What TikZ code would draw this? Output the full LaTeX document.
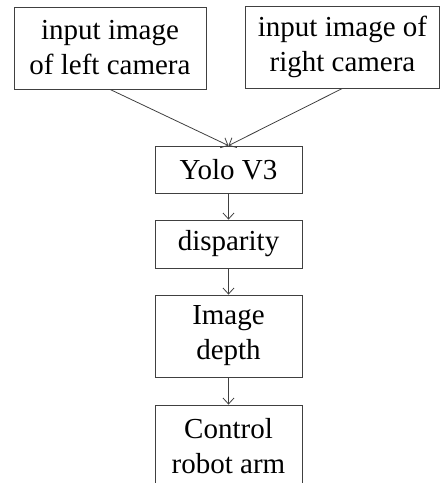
\documentclass[tikz,border=0pt]{standalone}
\usepackage{fontspec}
\setmainfont{Liberation Serif}
\usetikzlibrary{arrows.meta}

\tikzset{
	blk/.style={draw=black!75, line width=0.8pt, align=center, inner sep=0pt, minimum width=147pt, font=\fontsize{29}{35}\selectfont},
	arr/.style={draw=black!75, line width=0.8pt, -{Straight Barb[length=6pt,width=11pt]}}
}

\begin{document}
\begin{tikzpicture}[x=1pt,y=-1pt]
	\useasboundingbox (0,0) rectangle (440,483);
	\clip (0,0) rectangle (440,483);

	\node[blk, minimum width=192pt, minimum height=82pt] (left) at (110,48) {input image\\of left camera};
	\node[blk, minimum width=194pt, minimum height=82pt] (right) at (342.5,47) {input image of\\right camera};
	\node[blk, minimum height=47pt] (yolo) at (228.5,169.5) {Yolo V3};
	\node[blk, minimum height=48pt] (disp) at (228.5,244) {disparity};
	\node[blk, minimum height=82pt] (depth) at (228.5,336) {Image\\depth};
	\node[blk, minimum height=82pt] (ctrl) at (228.5,446) {Control\\robot arm};

	\draw[arr] (left.south) -- (yolo.north);
	\draw[arr] (right.south) -- (yolo.north);
	\draw[arr] (yolo) -- (disp);
	\draw[arr] (disp) -- (depth);
	\draw[arr] (depth) -- (ctrl);
\end{tikzpicture}
\end{document}
